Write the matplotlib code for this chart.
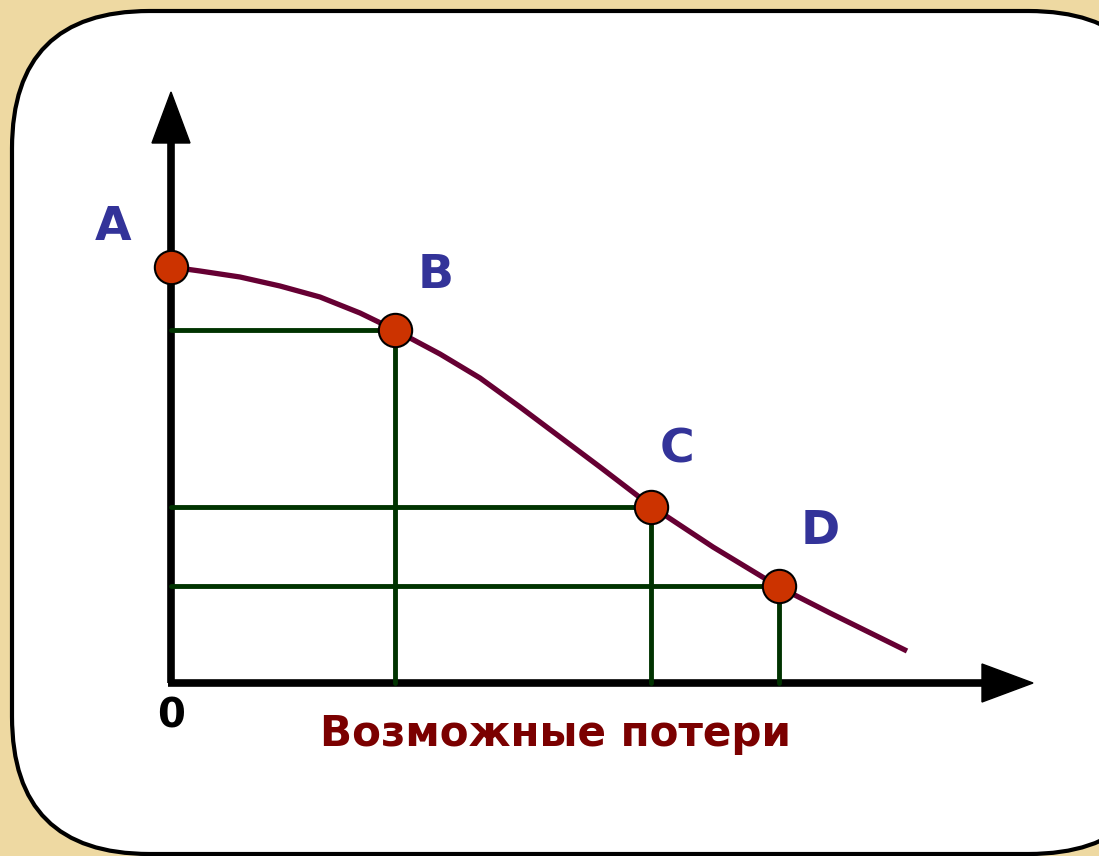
import matplotlib.pyplot as plt
from matplotlib.patches import FancyBboxPatch, Polygon

# curve of possible losses (chart units, origin at the axes corner)
curve_x = [0.0, 0.29, 0.69, 1.09, 1.49, 1.89, 2.24, 2.69, 3.09, 3.49, 3.89,
           4.29, 4.80, 5.42, 6.08, 6.59, 7.36]
curve_y = [4.16, 4.12, 4.06, 3.97, 3.86, 3.70, 3.53, 3.29, 3.05, 2.76, 2.46,
           2.16, 1.77, 1.36, 0.96, 0.70, 0.32]

# marked points
point_names = ["A", "B", "C", "D"]
point_x = [0.0, 2.24, 4.80, 6.08]
point_y = [4.16, 3.53, 1.76, 0.97]

x_label = "Возможные потери"
origin_label = "0"

BG = "#EED9A2"
CURVE = "#660033"
GUIDE = "#003300"
DOT = "#CC3300"
LETTER = "#333399"
TITLE = "#7B0000"

fig = plt.figure(figsize=(10.99, 8.56), dpi=100)
fig.patch.set_facecolor(BG)
ax = fig.add_axes([0, 0, 1, 1])
ax.set_xlim(-1.71, 9.28)
ax.set_ylim(-1.73, 6.83)
ax.axis("off")
ax.set_facecolor(BG)

# rounded white panel
box = FancyBboxPatch((12 / 1099, 2 / 856), 1.05, 843 / 856,
                     boxstyle="round,pad=0,rounding_size=0.125",
                     transform=ax.transAxes, facecolor="white",
                     edgecolor="black", linewidth=3, zorder=0,
                     mutation_aspect=1099 / 856)
ax.add_patch(box)

# axes with arrows
ax.plot([0, 0], [0, 5.41], color="black", lw=5.5, solid_capstyle="butt", zorder=2)
ax.plot([-0.035, 8.12], [0, 0], color="black", lw=5.5, solid_capstyle="butt", zorder=2)
ax.add_patch(Polygon([(-0.19, 5.40), (0.19, 5.40), (0, 5.91)],
                     closed=True, color="black", zorder=2))
ax.add_patch(Polygon([(8.11, 0.19), (8.11, -0.19), (8.62, 0)],
                     closed=True, color="black", zorder=2))

# guide lines
for px, py in zip(point_x[1:], point_y[1:]):
    ax.plot([0, px], [py, py], color=GUIDE, lw=3.5, solid_capstyle="round", zorder=3)
    ax.plot([px, px], [0, py], color=GUIDE, lw=3.5, solid_capstyle="round", zorder=3)

ax.plot(curve_x, curve_y, color=CURVE, lw=3.8, solid_joinstyle="round",
        solid_capstyle="butt", zorder=4)
ax.scatter(point_x, point_y, s=24 ** 2, color=DOT, edgecolors="black",
           linewidths=1.5, zorder=5)

label_dx = [-0.58, 0.41, 0.26, 0.41]
label_dy = [0.40, 0.54, 0.57, 0.54]
for name, px, py, dx, dy in zip(point_names, point_x, point_y, label_dx, label_dy):
    ax.text(px + dx, py + dy, name, color=LETTER, fontsize=34,
            fontweight="bold", ha="center", va="center", zorder=6)

ax.text(0, -0.34, origin_label, color="black", fontsize=29, fontweight="bold",
        ha="center", va="center")
ax.text(3.84, -0.51, x_label, color=TITLE, fontsize=30.3, fontweight="bold",
        ha="center", va="center")

fig.savefig("out.png", dpi=100, facecolor=BG)
